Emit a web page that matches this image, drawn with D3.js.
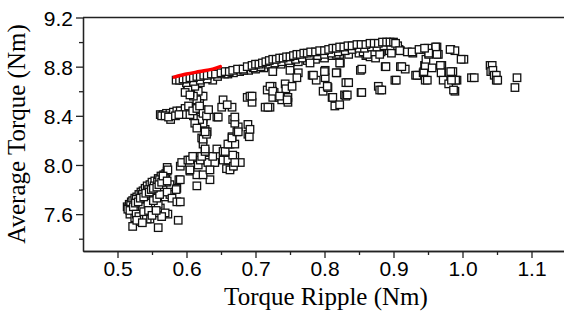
<!DOCTYPE html>
<html>
<head>
<meta charset="utf-8">
<script src="https://cdn.jsdelivr.net/npm/d3@7"></script>
<style>
  body { margin: 0; background: #fff; }
  svg { display: block; }
</style>
</head>
<body>
<div id="chart"></div>
<script>
let width = 564;
let height = 316;

// tick values
let xMajor = [0.5, 0.6, 0.7, 0.8, 0.9, 1.0, 1.1];
let xMinor = [0.55, 0.65, 0.75, 0.85, 0.95, 1.05];
let yMajor = [7.6, 8.0, 8.4, 8.8, 9.2];
let yMinor = [7.4, 7.8, 8.2, 8.6, 9.0];

// optimal front (red line)
let redLine = [[0.582, 8.715], [0.600, 8.74], [0.619, 8.76], [0.638, 8.78], [0.649, 8.80]];

// [torque ripple, average torque]
let lowerCluster = [
  [0.522,7.50],[0.559,7.49],[0.588,7.55],
  [0.514,7.66],[0.517,7.68],[0.520,7.70],[0.522,7.71],[0.525,7.73],[0.528,7.74],[0.531,7.76],[0.534,7.78],[0.537,7.79],[0.540,7.81],[0.543,7.83],[0.547,7.84],[0.550,7.86],[0.554,7.87],[0.559,7.89],[0.563,7.91],[0.567,7.92],
  [0.521,7.62],[0.525,7.64],[0.530,7.66],[0.534,7.68],[0.538,7.70],[0.543,7.72],[0.547,7.74],[0.551,7.75],[0.556,7.78],[0.562,7.80],
  [0.518,7.60],[0.525,7.57],[0.533,7.54],[0.540,7.59],[0.547,7.56],[0.554,7.61],[0.562,7.65],[0.540,7.65],[0.569,7.74],[0.576,7.76],
  [0.533,7.61],[0.547,7.61],[0.551,7.66],[0.559,7.68],[0.572,7.78],[0.576,7.84],
  [0.573,7.60],[0.569,7.61],[0.564,7.58],[0.543,7.56],[0.537,7.57],
  [0.579,7.73],[0.586,7.70],[0.591,7.70],[0.586,7.81],[0.589,7.88],[0.585,7.80],
  [0.516,7.65],[0.519,7.67],[0.527,7.72],[0.536,7.76],[0.545,7.80],[0.553,7.83],[0.558,7.86],[0.561,7.88],[0.566,7.90],[0.570,7.93],[0.572,7.95],[0.568,7.89],
  [0.529,7.63],[0.536,7.66],[0.544,7.69],[0.552,7.71],[0.557,7.73],[0.561,7.76],[0.566,7.84],[0.571,7.86],
  [0.515,7.64],[0.518,7.63],[0.523,7.66],[0.526,7.69],[0.530,7.70],[0.533,7.73],[0.538,7.74],[0.541,7.77],[0.546,7.78],[0.549,7.80],[0.552,7.81],[0.557,7.82],
  [0.560,7.84],[0.564,7.86],[0.527,7.60],[0.531,7.58],[0.538,7.62],[0.545,7.63],[0.550,7.59],[0.556,7.63],[0.528,7.55],[0.536,7.53]
];

let middleBand = [
  [0.572,7.98],[0.573,7.96],[0.566,7.91],[0.572,7.87],[0.591,7.99],[0.591,7.88],[0.605,7.95],[0.615,7.92],[0.634,7.88],[0.615,7.83],[0.624,7.92],
  [0.593,8.02],[0.602,8.04],[0.605,8.04],[0.609,8.07],[0.620,8.07],[0.630,8.04],[0.637,8.02],[0.617,8.00],[0.605,7.96],[0.620,8.04],[0.631,8.02],[0.641,8.02],[0.634,7.96],
  [0.638,8.07],[0.644,8.13],[0.653,8.11],[0.659,8.06],[0.666,8.02],[0.670,8.07],[0.678,8.02],[0.663,7.98],[0.666,7.99],[0.653,8.04],[0.660,8.04],[0.667,8.08],[0.656,8.11],
  [0.658,7.97],[0.663,7.96],[0.668,7.99],[0.670,8.02],
  [0.663,8.17],[0.670,8.17],[0.666,8.23],[0.660,8.17],[0.666,8.22],[0.673,8.27],[0.675,8.31],[0.667,8.37],[0.689,8.33],[0.689,8.25],[0.691,8.23],[0.692,8.29],[0.675,8.27],
  [0.670,8.34],[0.670,8.39],[0.644,8.39],[0.646,8.39],[0.653,8.53],[0.651,8.47],[0.666,8.47],[0.659,8.49]
];

let centralColumn = [
  [0.622,8.07],[0.627,8.11],[0.624,8.17],[0.622,8.22],[0.627,8.29],[0.620,8.34],[0.624,8.39],[0.615,8.42],[0.601,8.42],[0.609,8.47],[0.620,8.56],[0.615,8.61],[0.601,8.61],[0.609,8.67],
  [0.624,8.37],[0.630,8.27],[0.624,8.21],[0.627,8.13],[0.629,8.25],[0.627,8.27],[0.624,8.34],[0.619,8.37],[0.612,8.34],[0.615,8.30],[0.610,8.40],[0.605,8.45],[0.622,8.45],
  [0.624,8.56],[0.617,8.60],[0.619,8.50],[0.615,8.53],[0.610,8.56],[0.605,8.59],[0.603,8.63],[0.600,8.67],[0.595,8.69],
  [0.634,8.71],[0.638,8.69],[0.620,8.67],[0.612,8.64],[0.602,8.61],[0.598,8.59],[0.605,8.57],
  [0.562,8.41],[0.566,8.41],[0.571,8.42],[0.576,8.42],[0.581,8.43],[0.586,8.44],[0.591,8.44],[0.598,8.46],[0.603,8.48],[0.577,8.37],[0.595,8.41],[0.605,8.41],
  [0.609,8.44],[0.615,8.46],[0.619,8.48],[0.624,8.42],[0.629,8.40],[0.632,8.45],[0.564,8.40],[0.569,8.40],[0.574,8.39],[0.584,8.40],[0.589,8.41]
];

let upperBand = [
  [0.600,8.67],[0.610,8.68],[0.620,8.69],[0.630,8.70],[0.645,8.72],[0.660,8.74],[0.677,8.76],[0.690,8.77],[0.700,8.78],[0.712,8.79],[0.725,8.80],[0.737,8.82],[0.750,8.83],
  [0.762,8.84],[0.775,8.85],[0.787,8.86],[0.800,8.87],[0.811,8.89],[0.822,8.90],[0.835,8.90],[0.850,8.91],[0.860,8.89],[0.866,8.88],[0.874,8.87],[0.870,8.92],[0.882,8.92],
  [0.894,8.93],[0.905,8.95],[0.908,8.94],[0.817,8.90],[0.823,8.83],
  [0.856,8.92],[0.862,8.90],[0.880,8.90],[0.897,8.91],[0.910,8.93],
  [0.655,8.74],[0.668,8.75],[0.683,8.77],[0.697,8.79],[0.708,8.80],[0.718,8.82],[0.728,8.83],[0.738,8.84],[0.748,8.85],[0.758,8.86],[0.768,8.87],[0.778,8.88],
  [0.790,8.89],[0.800,8.90],[0.810,8.91],[0.820,8.92],[0.830,8.93],[0.840,8.94],[0.850,8.95],[0.858,8.95],[0.868,8.96],[0.876,8.96],[0.886,8.97],[0.896,8.97],[0.906,8.97],
  [0.585,8.69],[0.590,8.69],[0.595,8.70],[0.600,8.70],[0.605,8.71],[0.610,8.71],[0.615,8.72],[0.620,8.72],[0.625,8.73],[0.630,8.73],[0.636,8.74],[0.642,8.74],[0.650,8.75],
  [0.656,8.76],[0.662,8.76],[0.667,8.77],[0.674,8.78],[0.682,8.78],[0.688,8.80],[0.695,8.81],[0.700,8.82],[0.705,8.82],[0.710,8.83],[0.715,8.84],[0.720,8.85],[0.725,8.86],
  [0.730,8.86],[0.735,8.87],[0.740,8.87],[0.745,8.88],[0.750,8.88],[0.755,8.89],[0.760,8.90],[0.765,8.90],[0.770,8.91],[0.775,8.91],[0.780,8.92],[0.787,8.92],[0.793,8.93],
  [0.800,8.93],[0.806,8.94],[0.812,8.95],[0.817,8.95],[0.822,8.96],[0.828,8.96],[0.834,8.97],[0.840,8.97],[0.847,8.98],[0.853,8.98],[0.860,8.98],[0.866,8.99],[0.872,8.99],
  [0.878,8.99],[0.884,9.00],[0.890,9.00],[0.895,9.00],[0.900,9.00],[0.903,8.99]
];

let scatterRight = [
  [0.688,8.55],[0.695,8.51],[0.692,8.56],[0.695,8.56],[0.714,8.47],[0.721,8.47],[0.717,8.61],[0.724,8.64],[0.727,8.59],[0.725,8.55],[0.734,8.55],[0.738,8.53],[0.743,8.66],
  [0.744,8.62],[0.753,8.64],[0.747,8.55],[0.747,8.51],[0.721,8.64],[0.725,8.60],[0.735,8.56],[0.746,8.53],[0.718,8.47],
  [0.725,8.76],[0.750,8.77],[0.762,8.75],[0.760,8.71],[0.782,8.73],[0.788,8.69],[0.779,8.83],[0.801,8.77],[0.801,8.71],[0.784,8.73],[0.800,8.76],[0.818,8.75],[0.817,8.75],
  [0.822,8.83],[0.833,8.67],[0.831,8.67],[0.835,8.67],
  [0.798,8.60],[0.805,8.63],[0.804,8.64],[0.811,8.55],[0.812,8.55],[0.815,8.48],[0.822,8.49],[0.829,8.57],[0.831,8.56],[0.833,8.57],
  [0.852,8.77],[0.854,8.78],[0.853,8.59],[0.854,8.59],[0.878,8.64],[0.880,8.61],[0.883,8.61],[0.888,8.80],[0.889,8.80],[0.902,8.69],[0.904,8.69],
  [0.910,8.80],[0.917,8.78],[0.912,8.80],[0.932,8.73],[0.937,8.73],[0.934,8.73],[0.943,8.75],[0.946,8.69],[0.949,8.69],[0.944,8.76],[0.945,8.81],[0.946,8.81],[0.956,8.79],
  [0.947,8.86],[0.970,8.81],[0.970,8.76],[0.968,8.81],[0.969,8.75],[0.972,8.69],[0.980,8.66],[0.989,8.60],[0.987,8.61],[0.992,8.69],[0.990,8.69],[0.984,8.69],[0.986,8.76],
  [0.983,8.76],[1.002,8.86],[0.998,8.86],[0.983,8.94],[0.989,8.93],[0.982,8.94],[0.963,8.96],[0.961,8.96],[0.965,8.90],[0.963,8.90],[0.950,8.95],[0.943,8.94],[0.951,8.90],
  [0.951,8.91],[0.928,8.91],[0.920,8.92],[0.909,8.93],[0.927,8.92],[0.937,8.94],[0.945,8.95],
  [1.013,8.71],[1.017,8.71],[1.040,8.81],[1.043,8.81],[1.041,8.76],[1.044,8.77],[1.046,8.73],[1.049,8.73],[1.049,8.69],[1.051,8.69],[1.079,8.71],[1.076,8.63]
];

let points = lowerCluster.concat(middleBand, centralColumn, upperBand, scatterRight);

let margin = { top: 17.5, left: 83, bottom: 251, right: 566 };

let svg = d3.select("#chart").append("svg").attr("width", width).attr("height", height);

let xScale = d3.scaleLinear().domain([0.45, 1.15]).range([margin.left, margin.right]);
let yScale = d3.scaleLinear().domain([7.3, 9.2]).range([margin.bottom, margin.top]);

let sq = 7.5;

// markers
svg.append("g")
  .selectAll("rect")
  .data(points)
  .enter()
  .append("rect")
  .attr("x", function (d) { return xScale(d[0]) - sq / 2; })
  .attr("y", function (d) { return yScale(d[1]) - sq / 2; })
  .attr("width", sq)
  .attr("height", sq)
  .attr("fill", "#fff")
  .attr("stroke", "#111")
  .attr("stroke-width", 1.3);

// red line
svg.append("path")
  .datum(redLine)
  .attr("fill", "none")
  .attr("stroke", "#f00")
  .attr("stroke-width", 3.5)
  .attr("stroke-linecap", "round")
  .attr("d", d3.line()
    .curve(d3.curveMonotoneX)
    .x(function (d) { return xScale(d[0]); })
    .y(function (d) { return yScale(d[1]); }));

// axes
let xAxis = svg.append("g")
  .attr("transform", "translate(0," + margin.bottom + ")")
  .call(d3.axisBottom(xScale).tickValues(xMajor).tickSize(7).tickSizeOuter(0).tickFormat(d3.format(".1f")));
svg.append("g")
  .attr("transform", "translate(0," + margin.bottom + ")")
  .call(d3.axisBottom(xScale).tickValues(xMinor).tickSize(4).tickSizeOuter(0).tickFormat(""));

let yAxis = svg.append("g")
  .attr("transform", "translate(" + margin.left + ",0)")
  .call(d3.axisLeft(yScale).tickValues(yMajor).tickSize(7).tickSizeOuter(0).tickFormat(d3.format(".1f")));
svg.append("g")
  .attr("transform", "translate(" + margin.left + ",0)")
  .call(d3.axisLeft(yScale).tickValues(yMinor).tickSize(4).tickSizeOuter(0).tickFormat(""));

svg.selectAll(".domain, .tick line").attr("stroke", "#222").attr("stroke-width", 1.3);
svg.selectAll(".tick text")
  .attr("font-family", "Liberation Sans, Arial, sans-serif")
  .attr("font-size", 21)
  .attr("fill", "#000");
xAxis.selectAll(".tick text").attr("y", 10).attr("dy", "0.71em");
yAxis.selectAll(".tick text").attr("x", -10).attr("dy", "0.36em");

// top frame line
svg.append("line")
  .attr("x1", margin.left)
  .attr("x2", margin.right)
  .attr("y1", margin.top)
  .attr("y2", margin.top)
  .attr("stroke", "#222")
  .attr("stroke-width", 1.3);

// axis titles
svg.append("text")
  .attr("x", 326)
  .attr("y", 305)
  .attr("text-anchor", "middle")
  .attr("font-family", "Liberation Serif, Times New Roman, serif")
  .attr("font-size", 25)
  .text("Torque Ripple (Nm)");

svg.append("text")
  .attr("transform", "translate(25,134) rotate(-90)")
  .attr("text-anchor", "middle")
  .attr("font-family", "Liberation Serif, Times New Roman, serif")
  .attr("font-size", 25)
  .text("Average Torque (Nm)");
</script>
</body>
</html>
